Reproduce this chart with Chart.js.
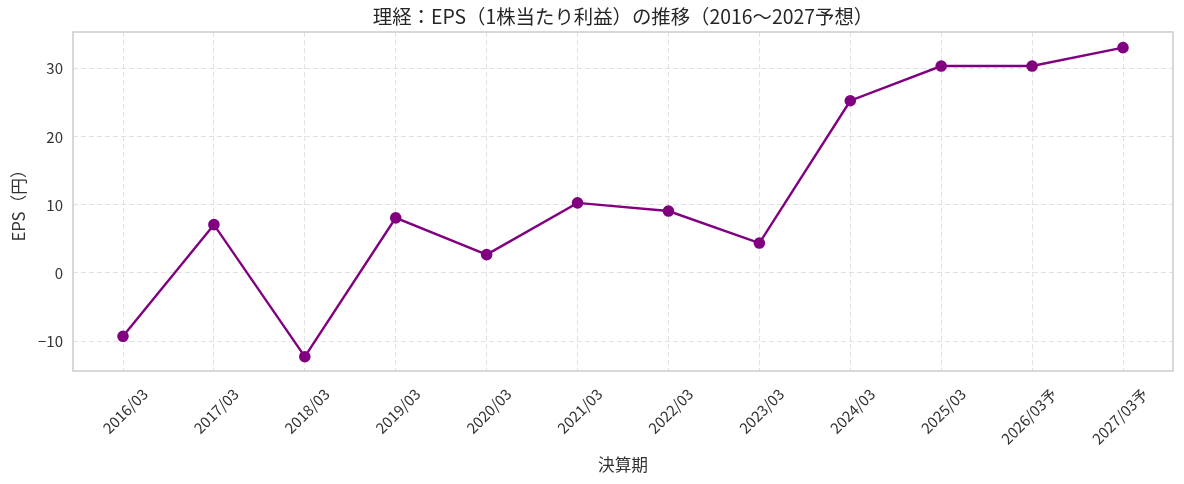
<!DOCTYPE html>
<html>
<head>
<meta charset="utf-8">
<script src="https://cdn.jsdelivr.net/npm/chart.js@4.4.1/dist/chart.umd.min.js"></script>
<style>
  html, body { margin: 0; padding: 0; background: #fff; }
  #wrap { width: 1184px; height: 484px; position: relative; }
</style>
</head>
<body>
<div id="wrap"><canvas id="eps"></canvas></div>
<script>
// EPS history + forecast
const periods = ['2016/03', '2017/03', '2018/03', '2019/03', '2020/03', '2021/03',
  '2022/03', '2023/03', '2024/03', '2025/03', '2026/03予', '2027/03予'];
const epsValues = [-9.3, 7.1, -12.3, 8.1, 2.7, 10.3, 9.1, 4.4, 25.3, 30.4, 30.4, 33.1];
const yTicks = [-10, 0, 10, 20, 30];
const chartTitle = '理経：EPS（1株当たり利益）の推移（2016〜2027予想）';

const FONT = "'Noto Sans CJK JP', 'Noto Sans', sans-serif";
const textColor = '#333333';
const gridColor = '#e2e2e2';

// light grey frame around the plot area, title centred over the axes (matplotlib style)
const frame = {
  id: 'frame',
  afterDraw(chart) {
    const { left, top, right, bottom } = chart.chartArea;
    const g = chart.ctx;
    g.save();
    g.strokeStyle = '#cccccc';
    g.lineWidth = 1.5;
    g.strokeRect(left, top, right - left, bottom - top);
    g.fillStyle = '#262626';
    g.font = `19.4px ${FONT}`;
    g.textAlign = 'center';
    g.textBaseline = 'middle';
    g.fillText(chartTitle, (left + right) / 2, 17);
    g.restore();
  }
};

new Chart(document.getElementById('eps'), {
  type: 'line',
  data: {
    datasets: [{
      data: epsValues.map((v, i) => ({ x: i, y: v })),
      borderColor: '#800080',
      backgroundColor: '#800080',
      borderWidth: 2.4,
      pointRadius: 4.6,
      pointHoverRadius: 5,
      tension: 0,
      fill: false
    }]
  },
  options: {
    responsive: true,
    maintainAspectRatio: false,
    animation: false,
    layout: { padding: { left: 0, right: 11, top: 32, bottom: 0 } },
    plugins: {
      legend: { display: false },
      tooltip: { enabled: false },
      title: { display: false }
    },
    scales: {
      x: {
        type: 'linear',
        min: -0.55,
        max: periods.length - 1 + 0.55,
        afterBuildTicks: s => { s.ticks = periods.map((_, i) => ({ value: i })); },
        afterFit: s => { s.height = 113; },
        grid: { color: gridColor, lineWidth: 1, drawTicks: false },
        border: { display: false, dash: [5, 3] },
        ticks: {
          color: textColor,
          font: { family: FONT, size: 15 },
          minRotation: 45,
          maxRotation: 45,
          padding: 14,
          labelOffset: 22,
          autoSkip: false,
          callback: v => periods[v] ?? ''
        },
        title: {
          display: true,
          text: '決算期',
          color: textColor,
          font: { family: FONT, size: 16.7, lineHeight: 1.2 },
          padding: { top: 0, bottom: 9 }
        }
      },
      y: {
        min: -14.4,
        max: 35.4,
        afterBuildTicks: s => { s.ticks = yTicks.map(v => ({ value: v })); },
        afterFit: s => { s.width = 73; },
        grid: { color: gridColor, lineWidth: 1, drawTicks: false },
        border: { display: false, dash: [5, 3] },
        ticks: {
          color: textColor,
          font: { family: FONT, size: 15 },
          padding: 10,
          callback: v => (v < 0 ? '\u2212' + Math.abs(v) : String(v))
        },
        title: {
          display: true,
          text: 'EPS（円）',
          color: textColor,
          font: { family: FONT, size: 16.7, lineHeight: 1.2 },
          padding: { top: 9, bottom: 0 }
        }
      }
    }
  },
  plugins: [frame]
});
</script>
</body>
</html>
